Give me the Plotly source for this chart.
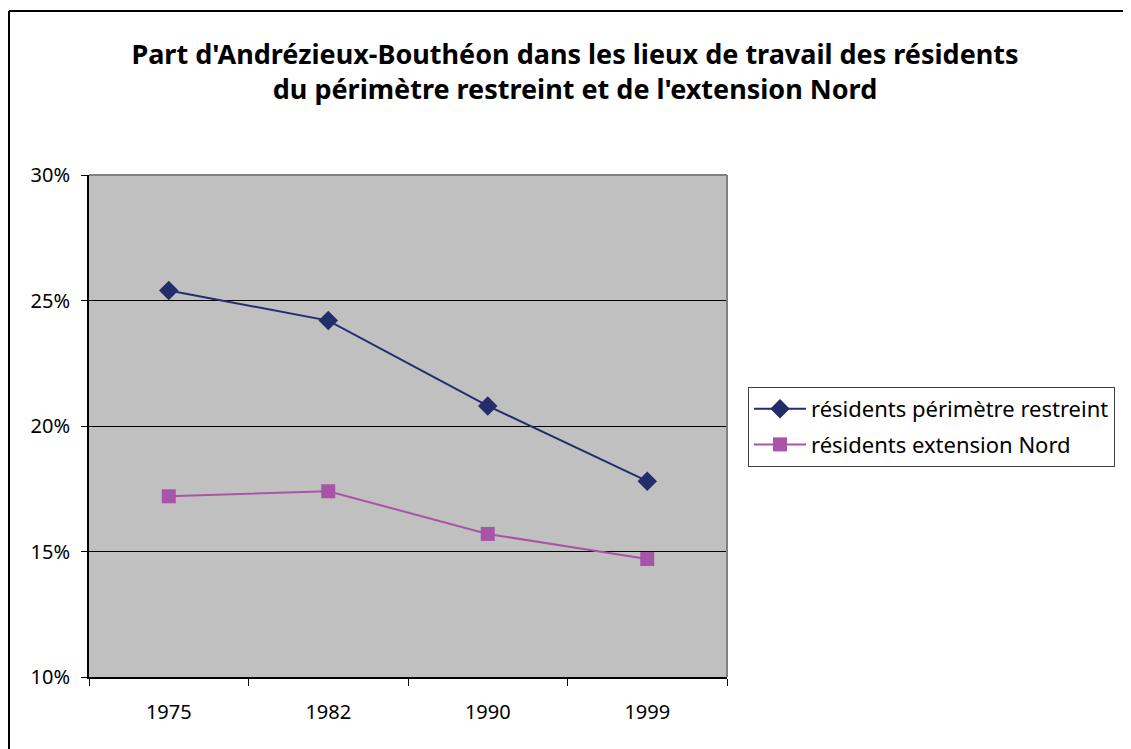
import plotly.graph_objects as go

annees = ["1975", "1982", "1990", "1999"]
perimetre_restreint = [0.254, 0.242, 0.208, 0.178]
extension_nord = [0.172, 0.174, 0.157, 0.147]
y_ticks = [0.10, 0.15, 0.20, 0.25, 0.30]
y_labels = ["10%", "15%", "20%", "25%", "30%"]

FONT = "Noto Sans"
# la page décale la figure de 8 px (marge du body)
W, H = 1123, 741
L, R, T, B = 81, 404, 167, 72
PW, PH = W - L - R, H - T - B

fig = go.Figure()
fig.add_trace(go.Scatter(
    x=annees, y=perimetre_restreint, name="résidents périmètre restreint",
    mode="lines+markers", legendgroup="a",
    line=dict(color="#232D6B", width=2),
    marker=dict(symbol="diamond", size=15, color="#232D6B"),
))
fig.add_trace(go.Scatter(
    x=annees, y=extension_nord, name="résidents extension Nord",
    mode="lines+markers", legendgroup="b",
    line=dict(color="#A855A8", width=2),
    marker=dict(symbol="square", size=14, color="#A855A8"),
))

# cadre extérieur du graphique (haut et gauche)
fig.add_shape(type="line", xref="paper", yref="paper",
              x0=(1 - L) / PW, x1=(W - L) / PW, y0=(PH + T - 3) / PH, y1=(PH + T - 3) / PH,
              line=dict(color="black", width=2))
fig.add_shape(type="line", xref="paper", yref="paper",
              x0=(1 - L) / PW, x1=(1 - L) / PW, y0=-B / PH, y1=(PH + T - 3) / PH,
              line=dict(color="black", width=2))
# bordure grise haut/droite de la zone de tracé
fig.add_shape(type="line", xref="paper", yref="paper", x0=0, x1=1, y0=1, y1=1,
              line=dict(color="#808080", width=2))
fig.add_shape(type="line", xref="paper", yref="paper", x0=1, x1=1, y0=0, y1=1,
              line=dict(color="#808080", width=2))

fig.update_layout(
    width=W, height=H,
    margin=dict(l=L, r=R, t=T, b=B),
    paper_bgcolor="white", plot_bgcolor="#C0C0C0",
    font=dict(family=FONT, size=20, color="black"),
    title=dict(
        text="<b>Part d'Andrézieux-Bouthéon dans les lieux de travail des résidents<br>du périmètre restreint et de l'extension Nord</b>",
        x=(575 - 8) / W, xanchor="center", y=(H - 56) / H, yanchor="top",
        font=dict(family=FONT, size=27, color="black"),
    ),
    legend=dict(
        x=(748 - 8) / W, xref="container", y=(H - (387 - 8)) / H, yref="container",
        xanchor="left", yanchor="top",
        bgcolor="white", bordercolor="#404040", borderwidth=1,
        font=dict(family=FONT, size=22), tracegroupgap=4, itemwidth=52,
    ),
    showlegend=True,
)
fig.update_xaxes(
    type="category", range=[-0.5, 3.5], tickson="boundaries",
    ticks="outside", ticklen=7, tickcolor="black",
    showline=True, linecolor="black", linewidth=2,
    showgrid=False, ticklabelstandoff=16,
)
fig.update_yaxes(
    range=[0.10, 0.30], tickvals=y_ticks, ticktext=y_labels,
    ticks="outside", ticklen=6, tickcolor="black",
    showline=True, linecolor="black", linewidth=2,
    showgrid=True, gridcolor="black", gridwidth=1, zeroline=False,
    ticklabelstandoff=7,
)

fig.write_html("out.html")
